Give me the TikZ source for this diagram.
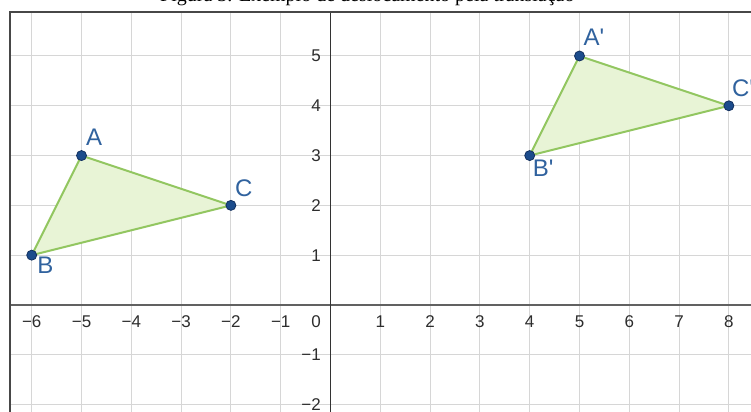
\documentclass[tikz,border=0pt]{standalone}
\usepackage{fontspec}
\setmainfont{Liberation Serif}
\setsansfont{Liberation Sans}
\usetikzlibrary{calc}
\definecolor{gridc}{RGB}{214,214,214}
\definecolor{ptfill}{RGB}{28,76,140}
\definecolor{ptdraw}{RGB}{18,48,95}
\definecolor{lblc}{RGB}{48,98,158}
\definecolor{triedge}{RGB}{146,198,96}
\definecolor{trifill}{RGB}{232,244,214}
\definecolor{tickc}{RGB}{45,45,45}
\tikzset{
  gridline/.style={draw=gridc, line width=1pt},
  xaxis/.style={draw=black!62, line width=2pt},
  yaxis/.style={draw=black!80, line width=1.3pt},
  frameline/.style={draw=black!72, line width=2pt},
  tick/.style={font=\sffamily\fontsize{17}{17}\selectfont, text=tickc, inner sep=0pt},
  pt/.style={circle, fill=ptfill, draw=ptdraw, line width=0.8pt, inner sep=0pt, minimum size=10pt},
  lbl/.style={font=\sffamily\fontsize{24}{24}\selectfont, text=lblc, inner sep=0pt, anchor=west},
  tri/.style={draw=triedge, fill=trifill, line width=2pt, line join=round},
  caption/.style={font=\fontsize{20}{20}\selectfont, inner sep=0pt, anchor=base west}
}
\begin{document}
\begin{tikzpicture}[x=49.8pt,y=49.8pt]
\useasboundingbox (-6.637,-2.149) rectangle (8.444,6.124);
\clip (-6.637,-2.149) rectangle (8.444,6.124);
\node[caption] (cap) at (-3.424,6.09) {Figura 3. Exemplo de deslocamento pela translação};
\begin{scope}
  \clip (-6.436,-2.3) rectangle (8.6,5.884);
  \foreach \x in {-6,...,8} \draw[gridline] (\x,-2.3) -- (\x,5.884);
  \foreach \y in {-2,...,5} \draw[gridline] (-6.5,\y) -- (8.6,\y);
  \draw[xaxis] (-6.5,0) -- (8.6,0);
  \draw[yaxis] (0,-2.3) -- (0,5.9);
  \foreach \x in {-6,...,-1} \node[tick] (tx\x) at (\x,-0.341) {−\the\numexpr-\x\relax};
  \foreach \x in {1,...,8} \node[tick] (tx\x) at (\x,-0.341) {\x};
  \node[tick, anchor=east] (t0) at (-0.19,-0.341) {0};
  \foreach \y in {1,...,6} \node[tick, anchor=east] (ty\y) at (-0.19,\y) {\y};
  \foreach \y in {1,2} \node[tick, anchor=east] (tym\y) at (-0.19,-\y) {−\y};
  % triangles
  \coordinate (A) at (-5,3);
  \coordinate (B) at (-6,1);
  \coordinate (C) at (-2,2);
  \coordinate (A1) at (5,5);
  \coordinate (B1) at (4,3);
  \coordinate (C1) at (8,4);
  \filldraw[tri] (A) -- (B) -- (C) -- cycle;
  \filldraw[tri] (A1) -- (B1) -- (C1) -- cycle;
  \node[pt] (pA) at (A) {};
  \node[pt] (pB) at (B) {};
  \node[pt] (pC) at (C) {};
  \node[pt] (pA1) at (A1) {};
  \node[pt] (pB1) at (B1) {};
  \node[pt] (pC1) at (C1) {};
  \node[lbl] (lA) at ($(A)+(0.09,0.37)$) {A};
  \node[lbl] (lB) at ($(B)+(0.11,-0.20)$) {B};
  \node[lbl] (lC) at ($(C)+(0.08,0.35)$) {C};
  \node[lbl] (lA1) at ($(A1)+(0.08,0.38)$) {A\textquotesingle};
  \node[lbl] (lB1) at ($(B1)+(0.06,-0.26)$) {B\textquotesingle};
  \node[lbl] (lC1) at ($(C1)+(0.06,0.36)$) {C\textquotesingle};
\end{scope}
\draw[frameline] (-6.436,-2.3) -- (-6.436,5.884) -- (8.6,5.884);
\end{tikzpicture}
\end{document}
